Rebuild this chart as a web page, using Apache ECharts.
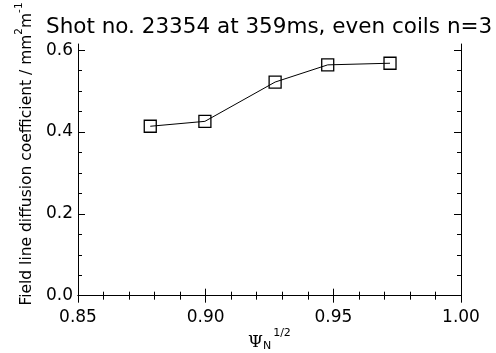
<!DOCTYPE html>
<html><head><meta charset="utf-8">
<script src="https://cdn.jsdelivr.net/npm/echarts@6/dist/echarts.min.js"></script>
<style>html,body{margin:0;padding:0;background:#fff}#c{width:496px;height:353px}</style>
</head><body><div id="c"></div>
<script>
var psiN = [0.8783, 0.8997, 0.9272, 0.9478, 0.9722];
var diffusion = [0.414, 0.426, 0.522, 0.564, 0.568];
var xTicks = [0.85, 0.90, 0.95, 1.00];
var yTicks = [0.0, 0.2, 0.4, 0.6];
var titleText = 'Shot no. 23354 at 359ms, even coils n=3';

var FONT = '"DejaVu Sans", Verdana, sans-serif';
var chart = echarts.init(document.getElementById('c'));
var axisCommon = {
  axisLine: {show: true, lineStyle: {color: '#000', width: 1}},
  axisTick: {show: true, inside: true, length: 7, lineStyle: {color: '#000', width: 1}},
  minorTick: {show: true, splitNumber: 5, length: 4, lineStyle: {color: '#000', width: 1}},
  splitLine: {show: false}
};
function xAx(pos, showLabel) {
  return Object.assign({}, axisCommon, {
    type: 'value', position: pos, min: 0.85, max: 1.0, interval: 0.05,
    axisLabel: {show: showLabel, color: '#000', fontSize: 17, fontFamily: FONT, margin: 8,
      formatter: function (v) { return v.toFixed(2); }}
  });
}
function yAx(pos, showLabel) {
  var a = Object.assign({}, axisCommon, {
    type: 'value', position: pos, min: -0.013, max: 0.615,
    axisLabel: {show: showLabel, color: '#000', fontSize: 17, fontFamily: FONT, margin: 5,
      customValues: yTicks, formatter: function (v) { return v.toFixed(1); }},
    axisTick: {show: true, inside: true, length: 7, customValues: yTicks, lineStyle: {color: '#000', width: 1}},
    minorTick: {show: false}
  });
  return a;
}
var yMinor = [];
for (var i = 0; i <= 12; i++) yMinor.push(+(i * 0.05).toFixed(2));
function yMinorAx(pos) {
  return {
    type: 'value', position: pos, min: -0.013, max: 0.615,
    axisLine: {show: false}, splitLine: {show: false},
    axisLabel: {show: false, customValues: yMinor},
    axisTick: {show: true, inside: true, length: 4, customValues: yMinor, lineStyle: {color: '#000', width: 1}}
  };
}
chart.setOption({
  animation: false,
  backgroundColor: '#fff',
  grid: {left: 78, right: 35, top: 44, bottom: 52},
  xAxis: [xAx('bottom', true), xAx('top', false)],
  yAxis: [yAx('left', true), yAx('right', false), yMinorAx('left'), yMinorAx('right')],
  series: [{
    type: 'line', data: psiN.map(function (x, i) { return [x, diffusion[i]]; }),
    symbol: 'rect', symbolSize: 12,
    lineStyle: {color: '#000', width: 1},
    itemStyle: {color: 'rgba(0,0,0,0)', borderColor: '#000', borderWidth: 1.3}
  }],
  graphic: [
    {type: 'text', left: 46, top: 16, style: {text: titleText, fill: '#000', font: '21.5px ' + FONT}},
    {type: 'text', x: 248, y: 328, style: {
      text: '{a|Ψ}{b|N}{c|1/2}', fill: '#000',
      rich: {
        a: {fontSize: 17, fontFamily: 'DejaVu Serif, serif', fill: '#000', verticalAlign: 'top', padding: [6, 0, 0, 0]},
        b: {fontSize: 11, fontFamily: FONT, fill: '#000', verticalAlign: 'top', padding: [13, 0, 0, 0]},
        c: {fontSize: 11, fontFamily: FONT, fill: '#000', verticalAlign: 'top', padding: [0, 0, 0, 2]}
      }}},
    {type: 'text', x: 14, y: 154, rotation: Math.PI / 2, style: {
      text: '{t|Field line diffusion coefficient / mm}{s|2}{t|m}{s|-1}', fill: '#000',
      align: 'center', verticalAlign: 'top',
      rich: {
        t: {fontSize: 15.5, fontFamily: FONT, fill: '#000', verticalAlign: 'top', padding: [5, 0, 0, 0]},
        s: {fontSize: 10.5, fontFamily: FONT, fill: '#000', verticalAlign: 'top', padding: [0, 0, 0, 0]}
      }}}
  ]
});
</script></body></html>
